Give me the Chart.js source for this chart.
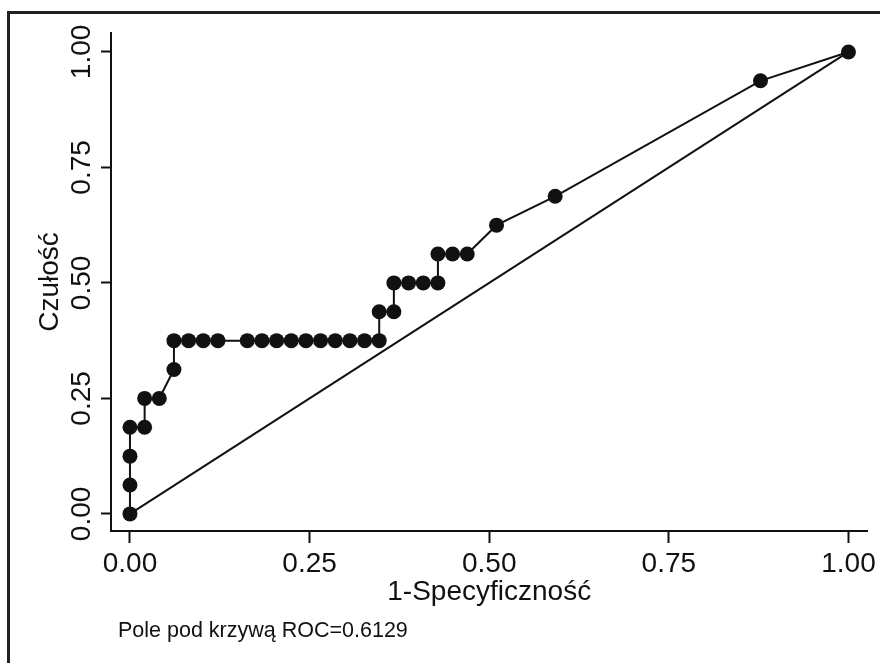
<!DOCTYPE html>
<html>
<head>
<meta charset="utf-8">
<script src="https://cdn.jsdelivr.net/npm/chart.js@4/dist/chart.umd.min.js"></script>
<style>
  html, body { margin: 0; padding: 0; background: #fff; }
  #wrap { width: 880px; height: 663px; }
</style>
</head>
<body>
<div id="wrap"><canvas id="roc" width="880" height="663"></canvas></div>
<script>
// 1-specificity / sensitivity pairs
const fpr = [0, 0, 0, 0, 0.0204, 0.0204, 0.0408, 0.0612, 0.0612, 0.0816, 0.1020, 0.1224,
  0.1633, 0.1837, 0.2041, 0.2245, 0.2449, 0.2653, 0.2857, 0.3061, 0.3265, 0.3469,
  0.3469, 0.3673, 0.3673, 0.3878, 0.4082, 0.4286, 0.4286, 0.4490, 0.4694, 0.5102,
  0.5918, 0.8776, 1];
const tpr = [0, 0.0625, 0.125, 0.1875, 0.1875, 0.25, 0.25, 0.3125, 0.375, 0.375, 0.375, 0.375,
  0.375, 0.375, 0.375, 0.375, 0.375, 0.375, 0.375, 0.375, 0.375, 0.375,
  0.4375, 0.4375, 0.5, 0.5, 0.5, 0.5, 0.5625, 0.5625, 0.5625, 0.625,
  0.6875, 0.9375, 1];
const refX = [0, 1];
const refY = [0, 1];
const tickValues = [0, 0.25, 0.5, 0.75, 1];

const xTitle = "1-Specyficzność";
const yTitle = "Czułość";
const aucNote = "Pole pod krzywą ROC=0.6129";

const FONT = "'Liberation Sans', Arial, Helvetica, sans-serif";
const INK = "#111";

const rocPoints = fpr.map((x, i) => ({ x: x, y: tpr[i] }));
const refPoints = refX.map((x, i) => ({ x: x, y: refY[i] }));

const framePlugin = {
  id: "frame",
  afterDraw(chart) {
    const ctx = chart.ctx;
    ctx.save();
    // outer frame (only top and left edges are visible)
    ctx.strokeStyle = "#231f20";
    ctx.lineWidth = 3;
    ctx.beginPath();
    ctx.moveTo(8.5, 663);
    ctx.lineTo(8.5, 12.5);
    ctx.lineTo(880, 12.5);
    ctx.stroke();
    // area note under the axis title
    ctx.fillStyle = INK;
    ctx.font = "21.5px " + FONT;
    ctx.textBaseline = "alphabetic";
    ctx.textAlign = "left";
    ctx.fillText(aucNote, chart.chartArea.left + 7, 637);
    ctx.restore();
  }
};

new Chart(document.getElementById("roc"), {
  type: "scatter",
  data: {
    datasets: [
      {
        label: "ref",
        data: refPoints,
        showLine: true,
        borderColor: INK,
        borderWidth: 2,
        pointRadius: 0
      },
      {
        label: "roc",
        data: rocPoints,
        showLine: true,
        borderColor: INK,
        borderWidth: 2,
        backgroundColor: INK,
        pointBackgroundColor: INK,
        pointBorderWidth: 0,
        pointRadius: 7.5
      }
    ]
  },
  options: {
    responsive: false,
    animation: false,
    devicePixelRatio: 1,
    layout: { padding: { top: 33, right: 12, left: 0, bottom: 0 } },
    plugins: {
      legend: { display: false },
      tooltip: { enabled: false }
    },
    scales: {
      x: {
        type: "linear",
        min: -0.0264,
        max: 1.0264,
        afterBuildTicks: (scale) => { scale.ticks = tickValues.map(v => ({ value: v })); },
        afterFit: (scale) => { scale.height = 132; },
        border: { display: true, color: INK, width: 2 },
        grid: { drawOnChartArea: false, drawTicks: true, tickLength: 12, tickWidth: 2, tickColor: INK },
        ticks: {
          color: INK,
          font: { family: FONT, size: 28 },
          padding: 4,
          maxRotation: 0,
          callback: (v) => Number(v).toFixed(2)
        },
        title: {
          display: true,
          text: xTitle,
          color: INK,
          font: { family: FONT, size: 28 },
          padding: { top: 0, bottom: 54 }
        }
      },
      y: {
        type: "linear",
        min: -0.037,
        max: 1.041,
        afterBuildTicks: (scale) => { scale.ticks = tickValues.map(v => ({ value: v })); },
        afterFit: (scale) => { scale.width = 111; },
        border: { display: true, color: INK, width: 2 },
        grid: { drawOnChartArea: false, drawTicks: true, tickLength: 10, tickWidth: 2, tickColor: INK },
        ticks: {
          color: INK,
          font: { family: FONT, size: 28 },
          padding: -9,
          minRotation: 90,
          maxRotation: 90,
          crossAlign: "center",
          callback: (v) => Number(v).toFixed(2)
        },
        title: {
          display: true,
          text: yTitle,
          color: INK,
          font: { family: FONT, size: 28 },
          padding: { top: 33, bottom: 0 }
        }
      }
    }
  },
  plugins: [framePlugin]
});
</script>
</body>
</html>
